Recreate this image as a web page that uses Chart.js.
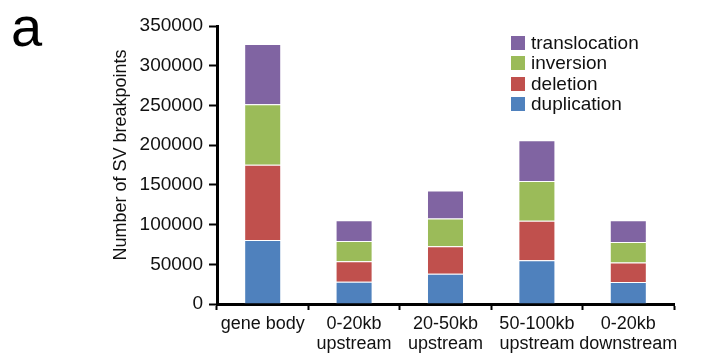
<!DOCTYPE html>
<html>
<head>
<meta charset="utf-8">
<script src="https://cdn.jsdelivr.net/npm/chart.js@4.4.1/dist/chart.umd.min.js"></script>
<style>
  html, body { margin: 0; padding: 0; background: #fff; }
  #wrap { position: relative; width: 724px; height: 358px; }
  #panel { position: absolute; left: 11px; top: -6px; font: 56px "Liberation Sans", Arial, sans-serif; color: #000; }
  #legend { position: absolute; left: 511px; top: 33px; font: 19px "Liberation Sans", Arial, sans-serif; color: #111; }
  .row { height: 20.3px; display: flex; align-items: center; }
  .box { width: 14px; height: 14px; margin-right: 6px; }
</style>
</head>
<body>
<div id="wrap">
  <canvas id="c" width="724" height="358"></canvas>
  <div id="panel">a</div>
  <div id="legend"></div>
</div>
<script>
const categories = [["gene body"], ["0-20kb", "upstream"], ["20-50kb", "upstream"], ["50-100kb", "upstream"], ["0-20kb", "downstream"]];
const seriesNames = ["duplication", "deletion", "inversion", "translocation"];
const duplication = [80500, 28000, 38100, 55000, 27700];
const deletion = [94700, 25700, 34500, 49800, 24700];
const inversion = [76300, 25500, 35200, 50200, 25600];
const translocation = [75800, 26100, 35200, 51200, 27300];
const yTicks = [0, 50000, 100000, 150000, 200000, 250000, 300000, 350000];
const yTitle = "Number of SV breakpoints";
const colors = ["#4F81BD", "#C0504D", "#9BBB59", "#8064A2"];

const values = [duplication, deletion, inversion, translocation];
const datasets = seriesNames.map((n, i) => ({
  label: n,
  data: values[i],
  backgroundColor: colors[i],
  borderColor: "rgba(255,255,255,0.35)",
  borderWidth: 1,
  barPercentage: 0.405,
  categoryPercentage: 1.0
}));

const chart = new Chart(document.getElementById("c"), {
  type: "bar",
  data: { labels: categories, datasets },
  options: {
    responsive: false,
    animation: false,
    layout: { padding: { left: 0, right: 50, top: 26, bottom: 0 } },
    plugins: { legend: { display: false }, tooltip: { enabled: false } },
    scales: {
      x: {
        stacked: true,
        afterFit: s => { s.height = 54; },
        grid: { display: true, drawOnChartArea: false, drawTicks: true, tickLength: 6, tickWidth: 2, tickColor: "#000", offset: true },
        border: { display: true, color: "#000", width: 3 },
        ticks: { color: "#111", padding: 4, maxRotation: 0, autoSkip: false, font: { family: "'Liberation Sans', Arial, sans-serif", size: 18, lineHeight: 1.1 } }
      },
      y: {
        stacked: true,
        min: 0, max: 350000,
        afterFit: s => { s.width = 217; },
        afterBuildTicks: s => { s.ticks = yTicks.map(v => ({ value: v })); },
        grid: { display: true, drawOnChartArea: false, drawTicks: true, tickLength: 8, tickWidth: 2, tickColor: "#000" },
        border: { display: true, color: "#000", width: 3 },
        ticks: { color: "#111", padding: 6, callback: v => String(v), font: { family: "'Liberation Sans', Arial, sans-serif", size: 19 } },
        title: { display: true, text: "\u00a0\u00a0\u00a0\u00a0" + yTitle, color: "#111", padding: { top: 110, bottom: 0 }, font: { family: "'Liberation Sans', Arial, sans-serif", size: 18, lineHeight: 1.2 } }
      }
    }
  }
});

const leg = document.getElementById("legend");
chart.data.datasets.slice().reverse().forEach(ds => {
  const r = document.createElement("div");
  r.className = "row";
  const b = document.createElement("div");
  b.className = "box";
  b.style.background = ds.backgroundColor;
  const t = document.createElement("span");
  t.textContent = ds.label;
  r.appendChild(b); r.appendChild(t);
  leg.appendChild(r);
});
</script>
</body>
</html>
